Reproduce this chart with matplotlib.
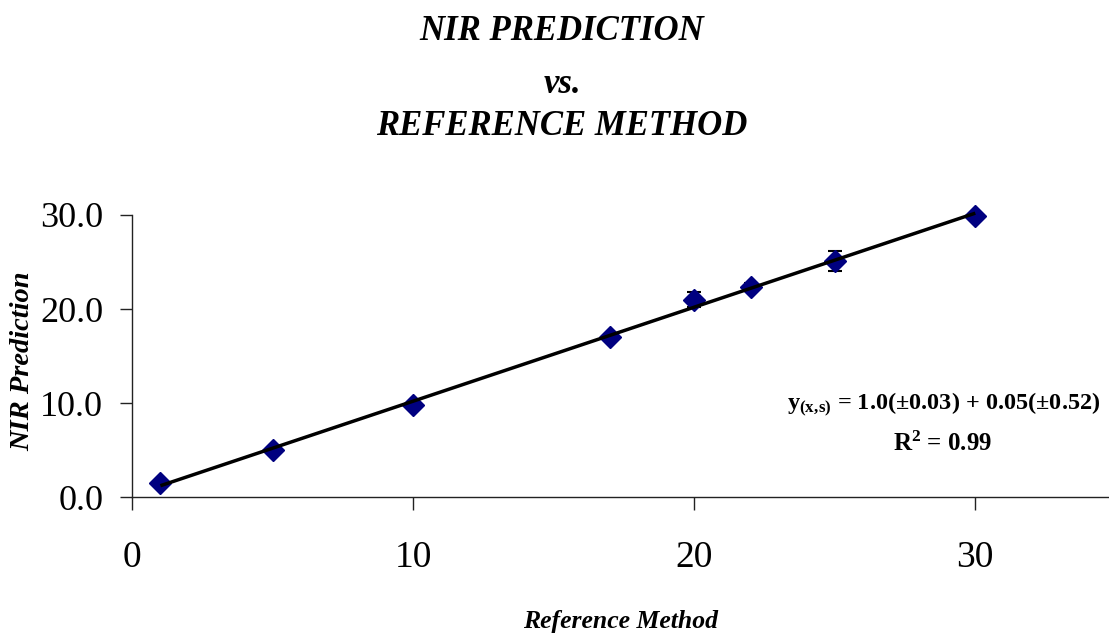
import numpy as np
import matplotlib
matplotlib.use("Agg")
import matplotlib.pyplot as plt

# Data
reference = [1, 5, 10, 17, 20, 22, 25, 30]
nir_pred = [1.5, 5.0, 9.8, 17.0, 21.0, 22.4, 25.1, 29.9]
nir_err = [0.2, 0.2, 0.3, 0.3, 0.8, 0.4, 1.1, 0.2]
x_ticks = [0, 10, 20, 30]
y_ticks = [0.0, 10.0, 20.0, 30.0]
title_lines = ["NIR PREDICTION", "vs.", "REFERENCE METHOD"]
x_label = "Reference Method"
y_label = "NIR Prediction"
eq_text = r"$\mathbf{y}_{\mathbf{(x,\!s)}}$ = 1.0(±0.03) + 0.05(±0.52)"
r2_text = r"R$^{\mathbf{2}}$ = 0.99"

plt.rcParams['font.family'] = ['Liberation Serif', 'DejaVu Serif']
plt.rcParams['mathtext.fontset'] = 'custom'
plt.rcParams['mathtext.rm'] = 'Liberation Serif:bold'
plt.rcParams['mathtext.it'] = 'Liberation Serif:bold'
plt.rcParams['mathtext.bf'] = 'Liberation Serif:bold'

W, H = 1109, 634
fig = plt.figure(figsize=(W / 100, H / 100), dpi=100)
ax = fig.add_axes([132.3 / W, 1 - 497.3 / H, 983.5 / W, (497.3 - 215) / H])

# error bars + markers
ax.errorbar(reference, nir_pred, yerr=nir_err, fmt='none', ecolor='black',
            elinewidth=1.0, capsize=5, capthick=1.5, zorder=2, clip_on=False)
ax.plot(reference, nir_pred, linestyle='none', marker='D', markersize=11.5,
        color='#000080', markeredgecolor='#000080', zorder=3, clip_on=False)

# linear trend line
coef = np.polyfit(reference, nir_pred, 1)
xs = np.array([min(reference), max(reference)])
ax.plot(xs, np.polyval(coef, xs), color='black', lw=2.5, zorder=4,
        solid_capstyle='butt', clip_on=False)

ax.set_xlim(0, 35)
ax.set_ylim(0, 30)
ax.set_xticks(x_ticks)
ax.set_xticklabels([str(t) for t in x_ticks])
ax.set_yticks(y_ticks)
ax.set_yticklabels([f"{t:.1f}" for t in y_ticks])
for s in ['top', 'right']:
    ax.spines[s].set_visible(False)
for s in ['left', 'bottom']:
    ax.spines[s].set_linewidth(1.0)
    ax.spines[s].set_color('#222222')
ax.tick_params(axis='both', direction='out', length=9, width=1.0, color='#222222')
ax.tick_params(axis='y', labelsize=26, pad=12)
ax.tick_params(axis='x', labelsize=27, pad=22)

# axis labels
fig.text(621 / W, 1 - 628 / H, x_label, ha='center', va='baseline',
         fontsize=18.5, fontweight='bold', style='italic')
fig.text(23 / W, 1 - 361 / H, y_label, ha='center', va='center', rotation=90,
         fontsize=20.5, fontweight='bold', style='italic')

# title
title_baselines = [40, 93, 135]
for line, yb in zip(title_lines, title_baselines):
    fig.text(562 / W, 1 - yb / H, line, ha='center', va='baseline',
             fontsize=25, fontweight='bold', style='italic')

# equation annotation
fig.text(944 / W, 1 - 410 / H, eq_text, ha='center', va='baseline',
         fontsize=17.5, fontweight='bold')
fig.text(943 / W, 1 - 451 / H, r2_text, ha='center', va='baseline',
         fontsize=18, fontweight='bold')

fig.savefig("out.png", dpi=100)
